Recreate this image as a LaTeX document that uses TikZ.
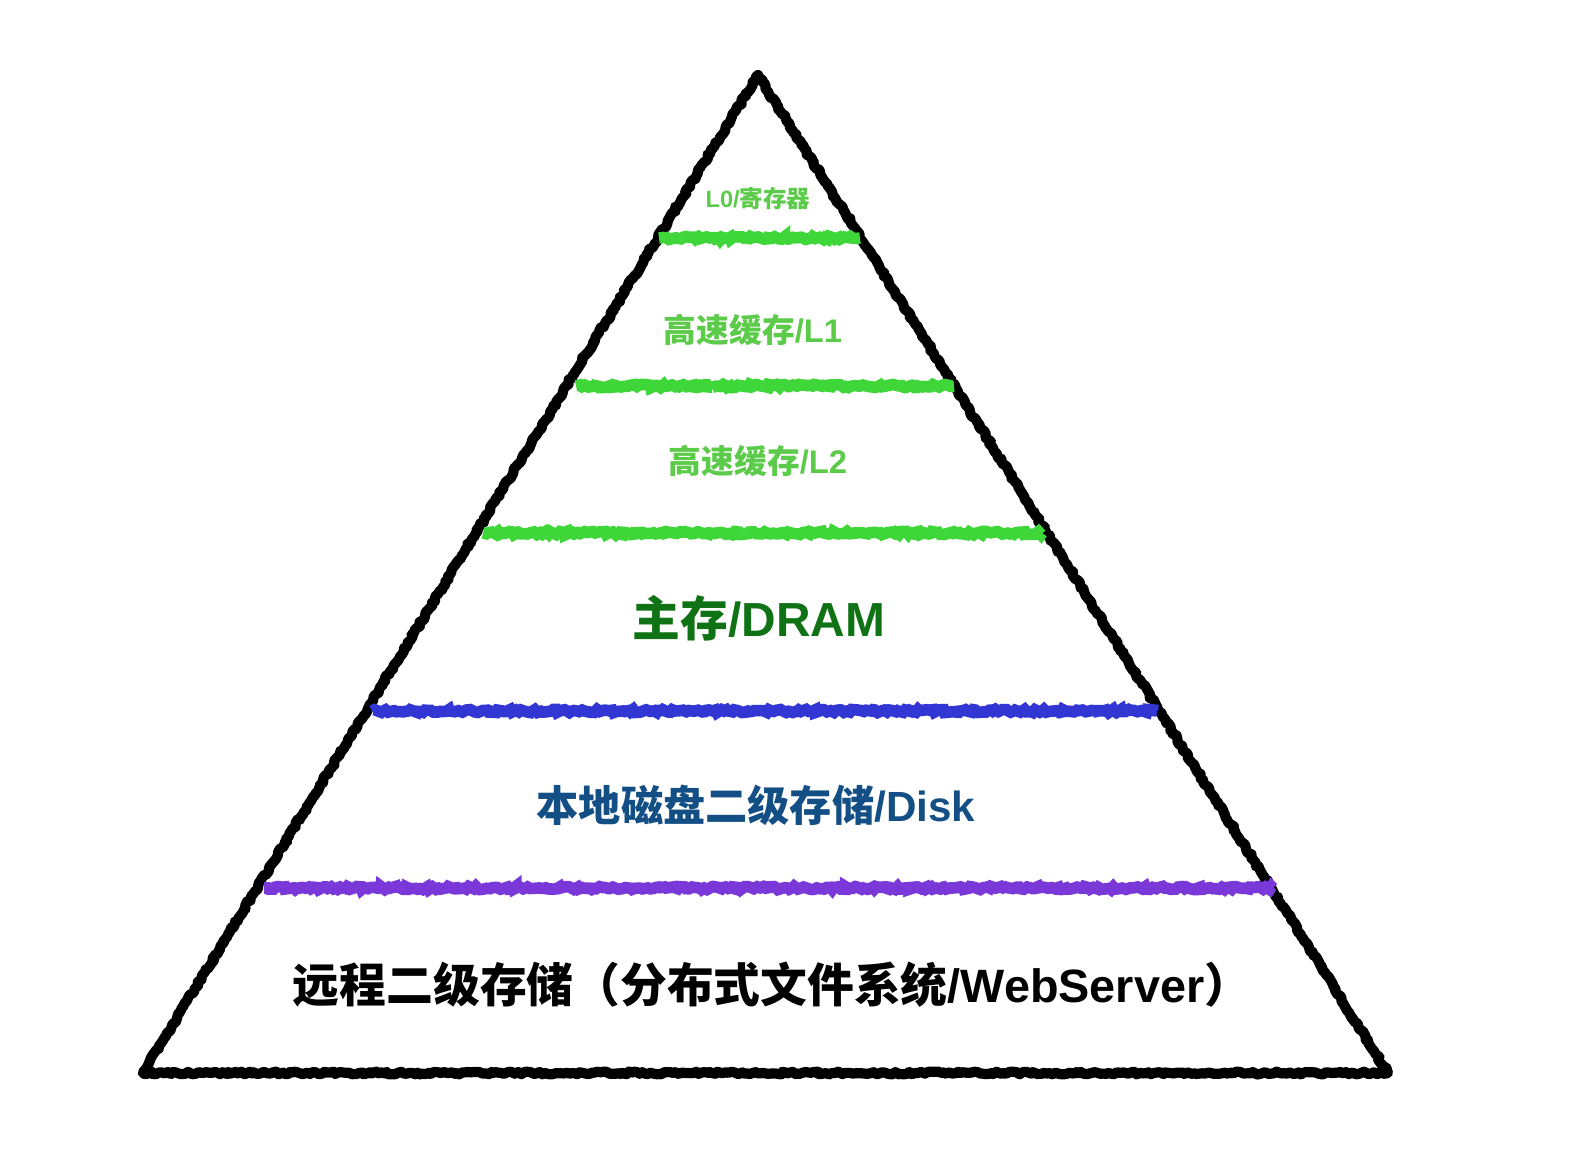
\documentclass[tikz,border=0pt]{standalone}
\usepackage{fontspec}
\setmainfont{Liberation Sans}
\newfontfamily\cjk{Noto Sans CJK SC}
\usetikzlibrary{calc,decorations.pathmorphing}
\definecolor{cachegreen}{HTML}{3FD63A}
\definecolor{cachetext}{HTML}{5CCB4A}
\definecolor{dramtext}{HTML}{0F7316}
\definecolor{diskblue}{HTML}{3236D2}
\definecolor{disktext}{HTML}{134F84}
\definecolor{remotepurple}{HTML}{7B38D8}

\begin{document}
\begin{tikzpicture}[x=0.01cm,y=-0.01cm]
  \tikzset{chalk/.style={line width=2.9pt,line join=round,line cap=round,
      decorate,decoration={random steps,segment length=0.8pt,amplitude=0.4pt}}}
  \tikzset{stripe/.style={line width=3.3pt,decorate,decoration={random steps,segment length=0.8pt,amplitude=0.45pt}}}
  \tikzset{levellabel/.style={inner sep=0pt}}
  \useasboundingbox (0,0) rectangle (1578,1162);
  \coordinate (apex) at (758,75);
  \coordinate (bl) at (143,1073);
  \coordinate (br) at (1388,1073);
  % pyramid outline
  \draw[chalk,black] (apex) -- (br) -- (bl) -- cycle;
  % level separators
  \draw[stripe,cachegreen] (659,238) -- (860,238);
  \draw[stripe,cachegreen] (576,386) -- (954,386);
  \draw[stripe,cachegreen] (483,533) -- (1042,533);
  \draw[stripe,diskblue] (372,711) -- (1157,711);
  \draw[stripe,remotepurple] (264,888) -- (1273,888);
  % level labels
  \node[levellabel,text=cachetext,font=\fontsize{6.7}{8}\selectfont\bfseries] (l0) at (758,198) {L0/{\cjk 寄存器}};
  \node[levellabel,text=cachetext,font=\fontsize{9.3}{11}\selectfont\bfseries] (l1) at (753,330) {{\cjk 高速缓存}/L1};
  \node[levellabel,text=cachetext,font=\fontsize{9.3}{11}\selectfont\bfseries] (l2) at (758,461) {{\cjk 高速缓存}/L2};
  \node[levellabel,text=dramtext,font=\fontsize{13.6}{16}\selectfont\bfseries] (dram) at (759,618) {{\cjk 主存}/DRAM};
  \node[levellabel,text=disktext,font=\fontsize{12}{14}\selectfont\bfseries] (disk) at (756,805) {{\cjk 本地磁盘二级存储}/Disk};
  \node[levellabel,text=black,font=\fontsize{13.3}{15}\selectfont\bfseries] (remote) at (772,985) {{\cjk 远程二级存储（分布式文件系统}/WebServer{\cjk ）}};
\end{tikzpicture}
\end{document}
